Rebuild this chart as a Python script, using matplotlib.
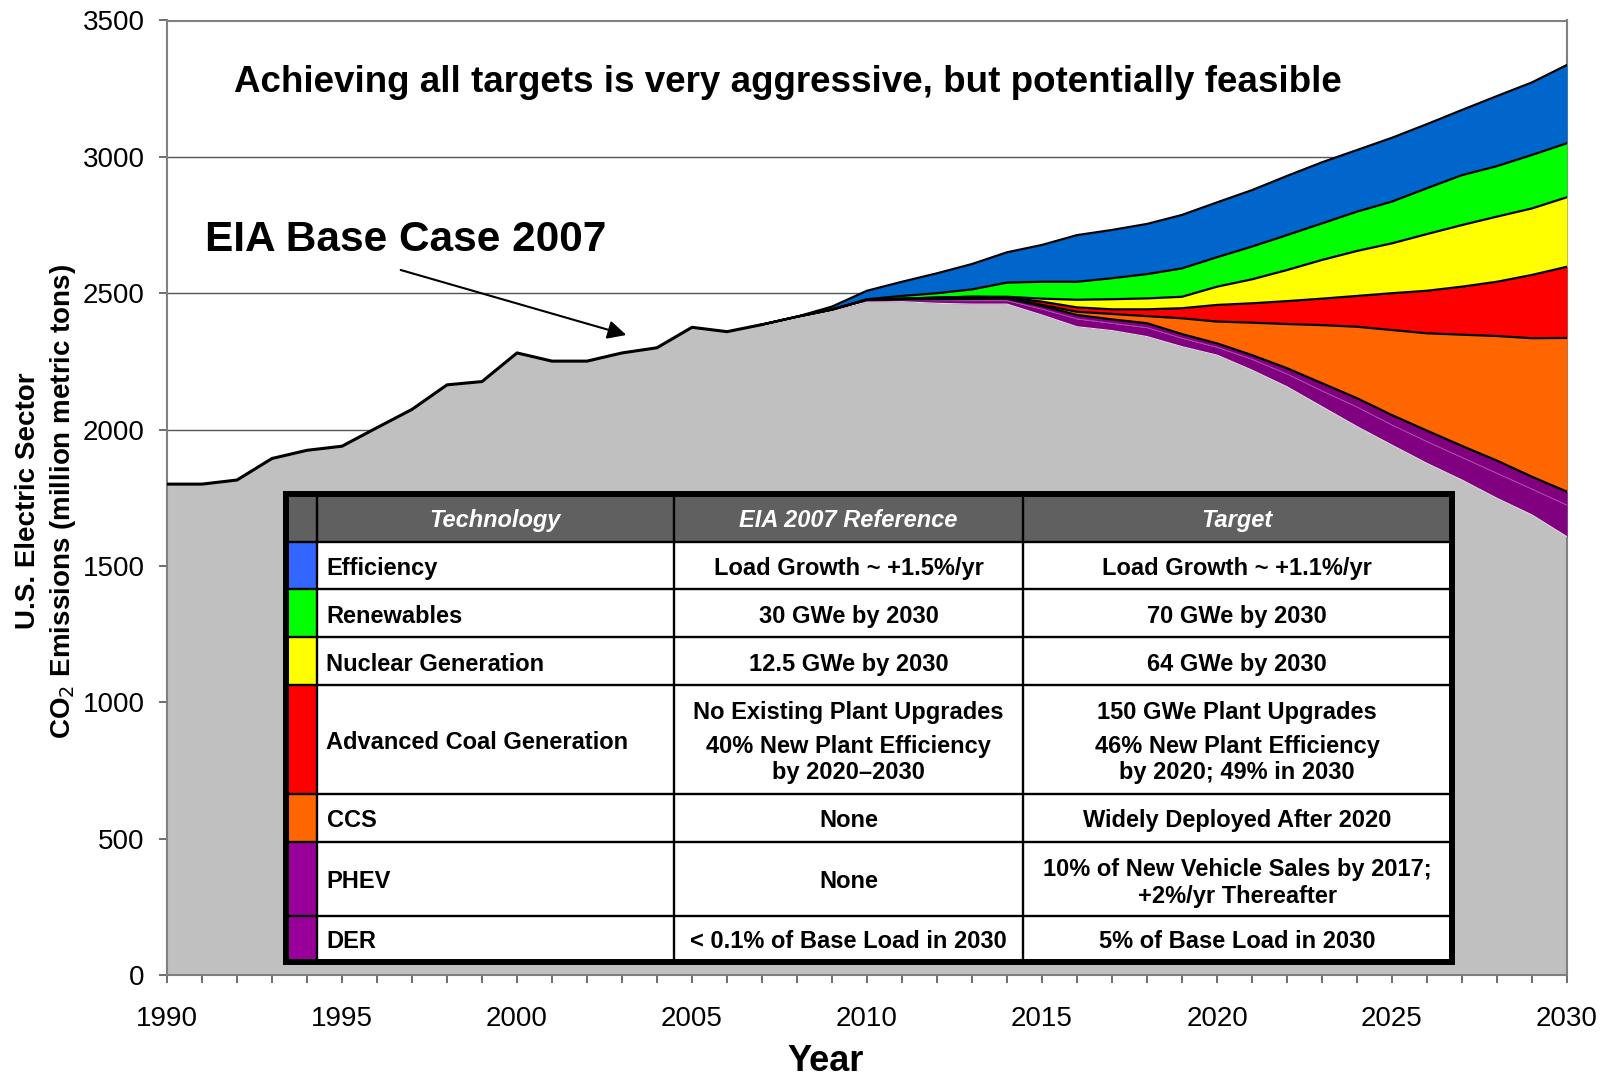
import matplotlib.pyplot as plt
from matplotlib.patches import Rectangle

plt.rcParams['font.family'] = ['Liberation Sans', 'DejaVu Sans']

# history 1990-2007 (million metric tons CO2)
hist_years = list(range(1990, 2008))
hist_co2 = [1800, 1800, 1815, 1894, 1924, 1939, 2007, 2074, 2164, 2176,
            2281, 2251, 2251, 2281, 2300, 2375, 2359, 2385]

# projections 2007-2030, each list is the level left after that technology
proj_years = list(range(2007, 2031))
eia_ref = [2385, 2414, 2451, 2509, 2542, 2573, 2607, 2650, 2677, 2713, 2732, 2754,
           2787, 2833, 2878, 2930, 2980, 3025, 3070, 3120, 3172, 3223, 3273, 3337]
after_eff = [2385, 2414, 2441, 2478, 2490, 2500, 2514, 2539, 2542, 2542, 2555, 2570,
             2591, 2632, 2671, 2713, 2756, 2799, 2836, 2885, 2933, 2966, 3007, 3050]
after_ren = [2385, 2414, 2440, 2476, 2480, 2484, 2487, 2487, 2480, 2476, 2478, 2481,
             2487, 2524, 2551, 2585, 2622, 2655, 2683, 2717, 2750, 2781, 2811, 2852]
after_nuc = [2385, 2414, 2440, 2476, 2480, 2484, 2487, 2485, 2469, 2448, 2441, 2441,
             2445, 2457, 2463, 2471, 2480, 2490, 2500, 2509, 2524, 2542, 2567, 2597]
after_coal = [2385, 2414, 2440, 2476, 2479, 2482, 2484, 2483, 2457, 2432, 2424, 2416,
              2408, 2396, 2392, 2387, 2383, 2377, 2365, 2353, 2348, 2343, 2335, 2336]
after_ccs = [2385, 2414, 2440, 2476, 2477, 2478, 2479, 2480, 2453, 2420, 2404, 2390,
             2350, 2316, 2273, 2225, 2170, 2115, 2053, 1996, 1940, 1886, 1827, 1772]
after_phev = [2385, 2414, 2439, 2473, 2474, 2473, 2473, 2473, 2442, 2406, 2390, 2374,
              2335, 2302, 2258, 2204, 2142, 2083, 2017, 1956, 1898, 1840, 1782, 1723]
after_der = [2385, 2414, 2438, 2467, 2469, 2463, 2460, 2460, 2420, 2377, 2363, 2341,
             2304, 2273, 2218, 2157, 2084, 2011, 1943, 1876, 1815, 1748, 1687, 1607]

levels = [eia_ref, after_eff, after_ren, after_nuc, after_coal, after_ccs, after_phev, after_der]
wedge_colors = ['#0066CC', '#00FF00', '#FFFF00', '#FF0000', '#FF6600', '#800080', '#800080']

# table contents
tech = ['Efficiency', 'Renewables', 'Nuclear Generation', 'Advanced Coal Generation',
        'CCS', 'PHEV', 'DER']
eia_2007 = [['Load Growth ~ +1.5%/yr'], ['30 GWe by 2030'], ['12.5 GWe by 2030'],
            ['No Existing Plant Upgrades', '40% New Plant Efficiency', 'by 2020\u20132030'],
            ['None'], ['None'], ['< 0.1% of Base Load in 2030']]
target = [['Load Growth ~ +1.1%/yr'], ['70 GWe by 2030'], ['64 GWe by 2030'],
          ['150 GWe Plant Upgrades', '46% New Plant Efficiency', 'by 2020; 49% in 2030'],
          ['Widely Deployed After 2020'],
          ['10% of New Vehicle Sales by 2017;', '+2%/yr Thereafter'],
          ['5% of Base Load in 2030']]
swatch_colors = ['#3366FF', '#00FF00', '#FFFF00', '#FF0000', '#FF6600', '#990099', '#990099']
headers = ['Technology', 'EIA 2007 Reference', 'Target']

fig = plt.figure(figsize=(16.04, 10.8), dpi=100)
ax = fig.add_axes([167 / 1604, 105 / 1080, 1400 / 1604, 954.5 / 1080])

# chart: one grey area for history + remaining emissions
grey_x = hist_years + proj_years[1:]
grey_y = hist_co2 + after_der[1:]
ax.fill_between(grey_x, 0, grey_y, color='#C0C0C0', lw=0, zorder=2)
for i, c in enumerate(wedge_colors):
    ax.fill_between(proj_years, levels[i + 1], levels[i], color=c, lw=0, zorder=3)
ax.plot(proj_years, after_phev, color='#B050B0', lw=0.6, zorder=4)
ax.plot(proj_years, after_der, color='#DDDDDD', lw=0.8, zorder=4)
for lv in levels[:6]:
    ax.plot(proj_years, lv, color='black', lw=1.6, zorder=5)
ax.plot(hist_years, hist_co2, color='black', lw=2.2, zorder=5)

ax.set_xlim(1990, 2030)
ax.set_ylim(0, 3500)
ax.set_yticks(range(0, 3501, 500))
ax.set_xticks(range(1990, 2031, 5))
ax.set_xticks(range(1990, 2031), minor=True)
ax.grid(axis='y', color='#555555', lw=1, zorder=1)
ax.set_axisbelow(True)
for s in ax.spines.values():
    s.set_color('#808080')
    s.set_linewidth(1.5)
ax.tick_params(axis='both', which='both', direction='out', length=6, width=1.2,
               color='#555555', labelsize=20)
ax.tick_params(axis='x', pad=16.5)
ax.tick_params(axis='y', pad=10)

ax.text(0.4434, 0.9348, 'Achieving all targets is very aggressive, but potentially feasible',
        transform=ax.transAxes, ha='center', va='center', fontsize=26.5, fontweight='bold')
ax.text(0.1708, 0.7705, 'EIA Base Case 2007', transform=ax.transAxes,
        ha='center', va='center', fontsize=30.5, fontweight='bold')
ax.annotate('', xy=(2003.2, 2344), xytext=(1996.6, 2588),
            arrowprops=dict(arrowstyle='-|>', color='black', lw=1.5, mutation_scale=28))

fig.text(0.0172, 0.536, 'U.S. Electric Sector', rotation=90, ha='center', va='center',
         fontsize=20, fontweight='bold')
fig.text(0.0395, 0.536, 'CO$_2$ Emissions (million metric tons)', rotation=90,
         ha='center', va='center', fontsize=20, fontweight='bold')
fig.text(826 / 1604, 1 - 1071 / 1080, 'Year', ha='center', va='baseline',
         fontsize=26, fontweight='bold')

# table overlay in pixel coordinates
ov = fig.add_axes([0, 0, 1, 1])
ov.set_xlim(0, 1604)
ov.set_ylim(1080, 0)
ov.axis('off')

col_x = [285.5, 317, 674, 1023, 1451.5]
row_y = [493.7, 542.2, 589.2, 637.3, 685.4, 793.8, 841.9, 915.6, 962]
line_y = {3: [709, 744, 770], 5: [866.5, 894]}
dy = 3  # text nudge

ov.add_patch(Rectangle((col_x[0], row_y[0]), col_x[-1] - col_x[0], row_y[-1] - row_y[0],
                       facecolor='white', edgecolor='none', zorder=1))
ov.add_patch(Rectangle((col_x[0], row_y[0]), col_x[-1] - col_x[0], row_y[1] - row_y[0],
                       facecolor='#606060', edgecolor='none', zorder=1))
for i, c in enumerate(swatch_colors):
    ov.add_patch(Rectangle((col_x[0], row_y[i + 1]), col_x[1] - col_x[0],
                           row_y[i + 2] - row_y[i + 1], facecolor=c, edgecolor='none', zorder=1))
for x in col_x[1:-1]:
    ov.plot([x, x], [row_y[0], row_y[-1]], color='black', lw=1.7, zorder=2)
for y in row_y[1:-1]:
    ov.plot([col_x[0], col_x[-1]], [y, y], color='black', lw=1.7, zorder=2)
ov.add_patch(Rectangle((col_x[0], row_y[0]), col_x[-1] - col_x[0], row_y[-1] - row_y[0],
                       facecolor='none', edgecolor='black', lw=4.3, zorder=3))

hy = (row_y[0] + row_y[1]) / 2 + dy
for j, h in enumerate(headers):
    ov.text((col_x[j + 1] + col_x[j + 2]) / 2, hy, h, ha='center', va='center',
            fontsize=17, fontweight='bold', fontstyle='italic', color='white')

for i in range(len(tech)):
    cy = (row_y[i + 1] + row_y[i + 2]) / 2 + dy
    ov.text(326.5, cy, tech[i], ha='left', va='center', fontsize=17, fontweight='bold')
    for col, cells in ((2, eia_2007), (3, target)):
        lines = cells[i]
        xs = (col_x[col] + col_x[col + 1]) / 2
        if len(lines) == 1:
            ys = [cy]
        else:
            ys = [v + dy for v in line_y[i]]
        for t, yy in zip(lines, ys):
            ov.text(xs, yy, t, ha='center', va='center', fontsize=17, fontweight='bold')

fig.savefig('out.png', dpi=100)
